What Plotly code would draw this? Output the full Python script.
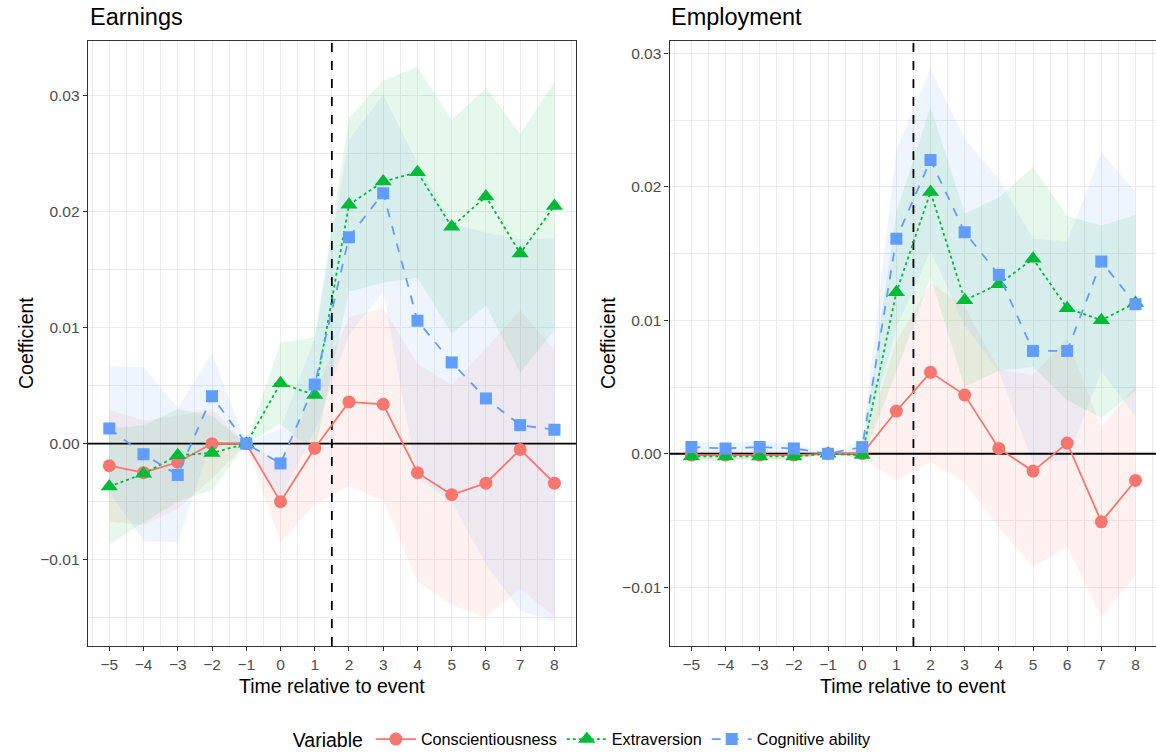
import plotly.graph_objects as go

# ---------------- data ----------------
t = [-5, -4, -3, -2, -1, 0, 1, 2, 3, 4, 5, 6, 7, 8]
series_names = ["Conscientiousness", "Extraversion", "Cognitive ability"]

# Earnings panel
earn_consc = [-0.0019, -0.0025, -0.0016, 0.0000, 0.0, -0.0050, -0.0004, 0.0036, 0.0034, -0.0025, -0.0044, -0.0034, -0.0005, -0.0034]
earn_consc_lo = [-0.0067, -0.0070, -0.0056, -0.0030, 0.0, -0.0085, -0.0052, -0.0037, -0.0049, -0.0119, -0.0139, -0.0150, -0.0125, -0.0149]
earn_consc_hi = [0.0029, 0.0020, 0.0024, 0.0030, 0.0, -0.0015, 0.0044, 0.0109, 0.0117, 0.0069, 0.0051, 0.0082, 0.0115, 0.0081]

earn_extra = [-0.0037, -0.0026, -0.0010, -0.0008, 0.0, 0.0052, 0.0042, 0.0206, 0.0226, 0.0234, 0.0187, 0.0213, 0.0164, 0.0205]
earn_extra_lo = [-0.0087, -0.0068, -0.0050, -0.0040, 0.0, 0.0017, -0.0008, 0.0131, 0.0139, 0.0143, 0.0095, 0.0119, 0.0061, 0.0098]
earn_extra_hi = [0.0013, 0.0016, 0.0030, 0.0024, 0.0, 0.0087, 0.0092, 0.0281, 0.0313, 0.0325, 0.0279, 0.0307, 0.0267, 0.0312]

earn_cog = [0.0013, -0.0009, -0.0027, 0.0041, 0.0, -0.0017, 0.0051, 0.0178, 0.0216, 0.0106, 0.0070, 0.0039, 0.0016, 0.0012]
earn_cog_lo = [-0.0041, -0.0084, -0.0085, 0.0004, 0.0, -0.0047, 0.0011, 0.0094, 0.0131, -0.0030, -0.0050, -0.0104, -0.0144, -0.0153]
earn_cog_hi = [0.0067, 0.0066, 0.0031, 0.0078, 0.0, 0.0013, 0.0091, 0.0262, 0.0301, 0.0242, 0.0190, 0.0182, 0.0176, 0.0177]

# Employment panel
emp_consc = [-0.0001, -0.0001, -0.0001, -0.0001, 0.0, 0.0, 0.0032, 0.0061, 0.0044, 0.0004, -0.0013, 0.0008, -0.0051, -0.0020]
emp_consc_lo = [-0.0004, -0.0004, -0.0004, -0.0004, 0.0, -0.0003, -0.0020, -0.0006, -0.0022, -0.0055, -0.0085, -0.0070, -0.0122, -0.0091]
emp_consc_hi = [0.0002, 0.0002, 0.0002, 0.0002, 0.0, 0.0003, 0.0084, 0.0128, 0.0110, 0.0063, 0.0059, 0.0086, 0.0020, 0.0051]

emp_extra = [-0.0002, -0.0002, -0.0002, -0.0002, 0.0, -0.0001, 0.0121, 0.0196, 0.0115, 0.0127, 0.0146, 0.0109, 0.0100, 0.0113]
emp_extra_lo = [-0.0005, -0.0005, -0.0005, -0.0005, 0.0, -0.0004, 0.0061, 0.0132, 0.0050, 0.0062, 0.0065, 0.0040, 0.0027, 0.0047]
emp_extra_hi = [0.0001, 0.0001, 0.0001, 0.0001, 0.0, 0.0002, 0.0181, 0.0260, 0.0180, 0.0192, 0.0215, 0.0178, 0.0171, 0.0179]

emp_cog = [0.0005, 0.0004, 0.0005, 0.0004, 0.0, 0.0005, 0.0161, 0.0220, 0.0166, 0.0134, 0.0077, 0.0077, 0.0144, 0.0112]
emp_cog_lo = [0.0001, 0.0001, 0.0001, 0.0001, 0.0, 0.0001, 0.0094, 0.0152, 0.0096, 0.0062, -0.0007, -0.0005, 0.0062, 0.0028]
emp_cog_hi = [0.0009, 0.0008, 0.0009, 0.0008, 0.0, 0.0009, 0.0228, 0.0288, 0.0236, 0.0206, 0.0161, 0.0159, 0.0226, 0.0196]

panel_titles = ["Earnings", "Employment"]
x_title = "Time relative to event"
y_title = "Coefficient"
legend_title = "Variable"
event_line_x = 1.5

# ---------------- styles ----------------
colors = ["#F8766D", "#00BA38", "#619CFF"]
fills = ["rgba(248,118,109,0.10)", "rgba(0,186,56,0.10)", "rgba(97,156,255,0.10)"]
symbols = ["circle", "triangle-up", "square"]
msizes = [13, 15, 12]
dashes = ["solid", "dot", "dash"]
FONT = "Liberation Sans, Arial, Helvetica, sans-serif"

W, H = 1156, 753

x_ranges = [[-5.63, 8.63], [-5.64, 8.6]]
y_ranges = [[-0.01744, 0.03474], [-0.01440, 0.03094]]

panels = [
    dict(est=[earn_consc, earn_extra, earn_cog],
         lo=[earn_consc_lo, earn_extra_lo, earn_cog_lo],
         hi=[earn_consc_hi, earn_extra_hi, earn_cog_hi],
         xa="x", ya="y"),
    dict(est=[emp_consc, emp_extra, emp_cog],
         lo=[emp_consc_lo, emp_extra_lo, emp_cog_lo],
         hi=[emp_consc_hi, emp_extra_hi, emp_cog_hi],
         xa="x2", ya="y2"),
]

fig = go.Figure()

for pi, p in enumerate(panels):
    # ribbons
    for si in range(3):
        fig.add_trace(go.Scatter(x=t, y=p["lo"][si], mode="lines", line=dict(width=0),
                                 xaxis=p["xa"], yaxis=p["ya"], showlegend=False, hoverinfo="skip"))
        fig.add_trace(go.Scatter(x=t, y=p["hi"][si], mode="lines", line=dict(width=0),
                                 fill="tonexty", fillcolor=fills[si],
                                 xaxis=p["xa"], yaxis=p["ya"], showlegend=False, hoverinfo="skip"))
    # reference lines (y = 0 and event line)
    xr, yr = x_ranges[pi], y_ranges[pi]
    fig.add_trace(go.Scatter(x=xr, y=[0, 0], mode="lines", line=dict(color="black", width=1.8),
                             xaxis=p["xa"], yaxis=p["ya"], showlegend=False, hoverinfo="skip"))
    fig.add_trace(go.Scatter(x=[event_line_x, event_line_x], y=yr, mode="lines",
                             line=dict(color="black", width=1.8, dash="dash"),
                             xaxis=p["xa"], yaxis=p["ya"], showlegend=False, hoverinfo="skip"))
    # lines + markers
    for si in range(3):
        fig.add_trace(go.Scatter(
            x=t, y=p["est"][si], mode="lines+markers", name=series_names[si],
            line=dict(color=colors[si], width=1.8, dash=dashes[si]),
            marker=dict(symbol=symbols[si], size=msizes[si], color=colors[si], line=dict(width=0)),
            xaxis=p["xa"], yaxis=p["ya"], showlegend=(pi == 0), legendgroup=series_names[si]))

# ---------------- axes ----------------
def px_x(v):
    return v / W

def px_y(v):
    return 1 - v / H

y_dom = [px_y(646), px_y(40.7)]
grid = "#EBEBEB"
axis_common = dict(
    showline=True, mirror=True, linecolor="#333333", linewidth=1.1,
    ticks="outside", ticklen=4, tickcolor="#333333", tickwidth=1.1,
    tickfont=dict(family=FONT, size=15.5, color="#4D4D4D"),
    showgrid=True, gridcolor=grid, gridwidth=1.1, zeroline=False, automargin=False,
)

fig.update_layout(
    xaxis=dict(domain=[px_x(87.7), px_x(576)], range=x_ranges[0], dtick=1, tick0=0,
               minor=dict(dtick=0.5, showgrid=True, gridcolor=grid, gridwidth=0.6, ticks=""),
               anchor="y", **axis_common),
    yaxis=dict(domain=y_dom, range=y_ranges[0], dtick=0.01, tick0=0, tickformat=".2f",
               minor=dict(dtick=0.005, showgrid=True, gridcolor=grid, gridwidth=0.6, ticks=""),
               anchor="x", **axis_common),
    xaxis2=dict(domain=[px_x(669.5), 1.0], range=x_ranges[1], dtick=1, tick0=0,
                minor=dict(dtick=0.5, showgrid=True, gridcolor=grid, gridwidth=0.6, ticks=""),
                anchor="y2", **axis_common),
    yaxis2=dict(domain=y_dom, range=y_ranges[1], dtick=0.01, tick0=0, tickformat=".2f",
                minor=dict(dtick=0.005, showgrid=True, gridcolor=grid, gridwidth=0.6, ticks=""),
                anchor="x2", **axis_common),
)

# text annotations
ann = []
ann.append(dict(text=panel_titles[0], x=px_x(87.7), y=px_y(17), xref="paper", yref="paper",
                xanchor="left", yanchor="middle", showarrow=False,
                font=dict(family=FONT, size=23.5, color="black")))
ann.append(dict(text=panel_titles[1], x=px_x(669), y=px_y(17), xref="paper", yref="paper",
                xanchor="left", yanchor="middle", showarrow=False,
                font=dict(family=FONT, size=23.5, color="black")))
for cx in [331.8, 912.5]:
    ann.append(dict(text=x_title, x=px_x(cx), y=px_y(686), xref="paper", yref="paper",
                    xanchor="center", yanchor="middle", showarrow=False,
                    font=dict(family=FONT, size=19.5, color="black")))
for cx in [26, 608]:
    ann.append(dict(text=y_title, x=px_x(cx), y=px_y(343), xref="paper", yref="paper",
                    xanchor="center", yanchor="middle", showarrow=False, textangle=-90,
                    font=dict(family=FONT, size=19.5, color="black")))

fig.update_layout(
    width=W, height=H,
    margin=dict(l=0, r=0, t=0, b=0, autoexpand=False),
    paper_bgcolor="white", plot_bgcolor="white",
    annotations=ann,
    showlegend=True,
    legend=dict(orientation="h", x=0.505, xanchor="center", y=px_y(740), yanchor="middle",
                title=dict(text=legend_title, font=dict(family=FONT, size=19.5, color="black")),
                font=dict(family=FONT, size=16.2, color="black"),
                itemwidth=40, bgcolor="rgba(0,0,0,0)"),
    font=dict(family=FONT),
)

fig.write_html("out.html")
